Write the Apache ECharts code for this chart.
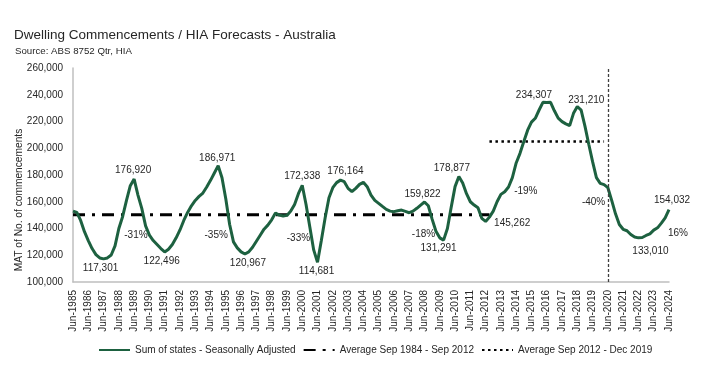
<!DOCTYPE html>
<html>
<head>
<meta charset="utf-8">
<script src="https://cdn.jsdelivr.net/npm/echarts@6/dist/echarts.min.js"></script>
<style>html,body{margin:0;padding:0;background:#fff}#c{width:712px;height:371px}</style>
</head>
<body>
<div id="c"></div>
<script>
// Quarterly categories, Jun-1985 .. Jun-2024
const months = ['Mar', 'Jun', 'Sep', 'Dec'];
const categories = [];
for (let y = 1985, q = 1; !(y === 2024 && q > 1); ) {
  categories.push(months[q] + '-' + y);
  q++; if (q === 4) { q = 0; y++; }
}

const seriesName = 'Sum of states - Seasonally Adjusted';
const commencements = [
  153000,152000,146000,137600,131000,125000,120500,118000,117301,118000,
  120200,127000,140000,149000,161000,172000,176920,165000,155000,142000,
  135000,131000,128000,125000,122496,124500,128000,133000,138900,146000,
  152000,157000,161000,164000,166500,171000,176000,181500,186971,178000,
  162000,143000,130000,125500,122500,120967,122500,126000,130500,135000,
  139500,142500,146500,151500,150000,149300,149800,153000,158000,166000,
  172338,158000,141000,124000,114681,131000,148000,163000,170500,174300,
  176164,175000,170000,167500,170000,173000,174500,171300,165000,161000,
  158800,156500,154300,153000,152600,153300,153800,152800,151800,153000,
  155100,157500,159822,157000,147000,138000,133000,131291,140000,156000,
  171300,178877,174000,166000,160000,157500,155500,147600,145262,148500,
  153000,160000,165500,167500,171000,178000,189000,196200,205000,213500,
  219500,222400,228600,234307,234200,234300,228000,222500,219900,218200,
  216900,226100,231210,228500,216500,203000,190000,178000,173800,172800,
  170500,161000,151000,143000,139400,138300,135500,133600,133010,133300,
  134800,136000,138800,140500,144000,148000,154032
];

// Averages
const avg1Name = 'Average Sep 1984 - Sep 2012';
const avg1Value = 150300;
const avg1From = 'Jun-1985', avg1To = 'Sep-2012';
const avg2Name = 'Average Sep 2012 - Dec 2019';
const avg2Value = 205000;
const avg2From = 'Sep-2012', avg2To = 'Mar-2020';

// Labelled turning points
const labelledPoints = ['Jun-1987','Jun-1989','Jun-1991','Dec-1994','Sep-1996','Jun-2000','Jun-2001','Dec-2002',
  'Jun-2008','Sep-2009','Sep-2010','Jun-2012','Mar-2016','Jun-2018','Jun-2022','Jun-2024'];
// Percentage change annotations
const pctText  = ['-31%', '-35%', '-33%', '-18%', '-19%', '-40%', '16%'];
const pctAt    = ['Sep-1989', 'Dec-1994', 'Mar-2000', 'Jun-2008', 'Dec-2014', 'Jun-2019', 'Jun-2024'];
const pctValue = [135100, 135100, 132600, 135900, 167500, 160000, 136400];

const yTicks = { min: 100000, max: 260000, step: 20000 };
const forecastStart = 'Jun-2020';

// ---- styling (positions of labels relative to their points)
const labelPlace = {
  'Jun-1987': ['bottom', [-3, 0]], 'Jun-1989': ['top', [-1, 1]], 'Jun-1991': ['bottom', [-3, 0]],
  'Dec-1994': ['top', [-1, 2]], 'Sep-1996': ['bottom', [3, 0]], 'Jun-2000': ['top', [0, 1]],
  'Jun-2001': ['bottom', [-1, -1]], 'Dec-2002': ['top', [5, 1]], 'Jun-2008': ['top', [-2, 2]],
  'Sep-2009': ['bottom', [-5, -1]], 'Sep-2010': ['top', [-7, 1]], 'Jun-2012': ['right', [4, 2]],
  'Mar-2016': ['top', [-9, 2]], 'Jun-2018': ['top', [9, 3]], 'Jun-2022': ['bottom', [12, 4]],
  'Jun-2024': ['top', [3, 0]]
};
const pctOffset = [[-2, 0], [-2, 0], [0, 0], [-1, 0], [2, 0], [1, 0], [9, 0]];

const fmt = v => v.toLocaleString('en-US');
const FONT = '"Liberation Sans", Arial, sans-serif';
const TXT = '#262626';

function rangeSeries(val, from, to) {
  const a = categories.indexOf(from), b = categories.indexOf(to);
  return categories.map((c, i) => (i >= a && i <= b) ? val : null);
}

const valuePoints = labelledPoints.map(c => {
  const v = commencements[categories.indexOf(c)];
  const p = labelPlace[c];
  return { coord: [c, v], label: { show: true, formatter: fmt(v), position: p[0], offset: p[1],
    distance: 4, fontSize: 10, color: TXT, fontFamily: FONT } };
});
const pctPoints = pctText.map((t, k) => ({
  coord: [pctAt[k], pctValue[k]],
  label: { show: true, formatter: t, position: 'inside', offset: pctOffset[k],
    fontSize: 10, color: TXT, fontFamily: FONT }
}));

const chart = echarts.init(document.getElementById('c'), null, { renderer: 'canvas' });
chart.setOption({
  animation: false,
  backgroundColor: '#fff',
  textStyle: { fontFamily: FONT },
  title: [
    { text: 'Dwelling Commencements / HIA Forecasts - Australia', left: 9, top: 23,
      textStyle: { fontSize: 13.5, fontWeight: 'normal', color: TXT, fontFamily: FONT } },
    { text: 'Source: ABS 8752 Qtr, HIA', left: 10, top: 41,
      textStyle: { fontSize: 9.7, fontWeight: 'normal', color: TXT, fontFamily: FONT } }
  ],
  grid: { left: 73, right: 43, top: 68, bottom: 89 },
  legend: {
    left: 93, top: 340, itemWidth: 31, itemHeight: 12, itemGap: 7,
    itemStyle: { opacity: 0 },
    textStyle: { fontSize: 10, color: TXT, fontFamily: FONT },
    data: [seriesName, avg1Name, avg2Name]
  },
  xAxis: {
    type: 'category', data: categories, boundaryGap: false,
    axisLine: { lineStyle: { color: '#bfbfbf', width: 1.5 } },
    axisTick: { show: false },
    axisLabel: { interval: 3, rotate: 90, fontSize: 10, color: TXT, margin: 8, fontFamily: FONT }
  },
  yAxis: {
    type: 'value', min: yTicks.min, max: yTicks.max, interval: yTicks.step,
    name: 'MAT of No. of commencements', nameLocation: 'middle', nameGap: 49,
    nameMoveOverlap: false,
    nameTextStyle: { fontSize: 10.2, color: TXT, fontFamily: FONT, padding: [0, 50, 0, 0] },
    axisLine: { show: true, lineStyle: { color: '#bfbfbf', width: 1.5 } },
    axisTick: { show: false },
    splitLine: { show: false },
    axisLabel: { fontSize: 10, color: TXT, margin: 10, fontFamily: FONT, formatter: v => fmt(v) }
  },
  series: [
    {
      name: avg1Name, type: 'line', data: rangeSeries(avg1Value, avg1From, avg1To),
      symbol: 'none', silent: true, z: 2,
      lineStyle: { color: '#000', width: 3, type: [12, 7, 3, 7] }, itemStyle: { color: '#000' }
    },
    {
      name: avg2Name, type: 'line', data: rangeSeries(avg2Value, avg2From, avg2To),
      symbol: 'none', silent: true, z: 2,
      lineStyle: { color: '#000', width: 2.5, type: [2.5, 3.5] }, itemStyle: { color: '#000' }
    },
    {
      name: seriesName, type: 'line', data: commencements, symbol: 'none', z: 3,
      lineStyle: { color: '#1d6140', width: 3 }, itemStyle: { color: '#1d6140' },
      markLine: {
        silent: true, symbol: 'none', label: { show: false },
        lineStyle: { color: '#404040', width: 1.3, type: [3, 2] },
        data: [{ xAxis: forecastStart }]
      },
      markPoint: {
        symbol: 'circle', symbolSize: 1, itemStyle: { color: 'rgba(0,0,0,0)' },
        data: valuePoints.concat(pctPoints)
      }
    }
  ]
});
</script>
</body>
</html>
